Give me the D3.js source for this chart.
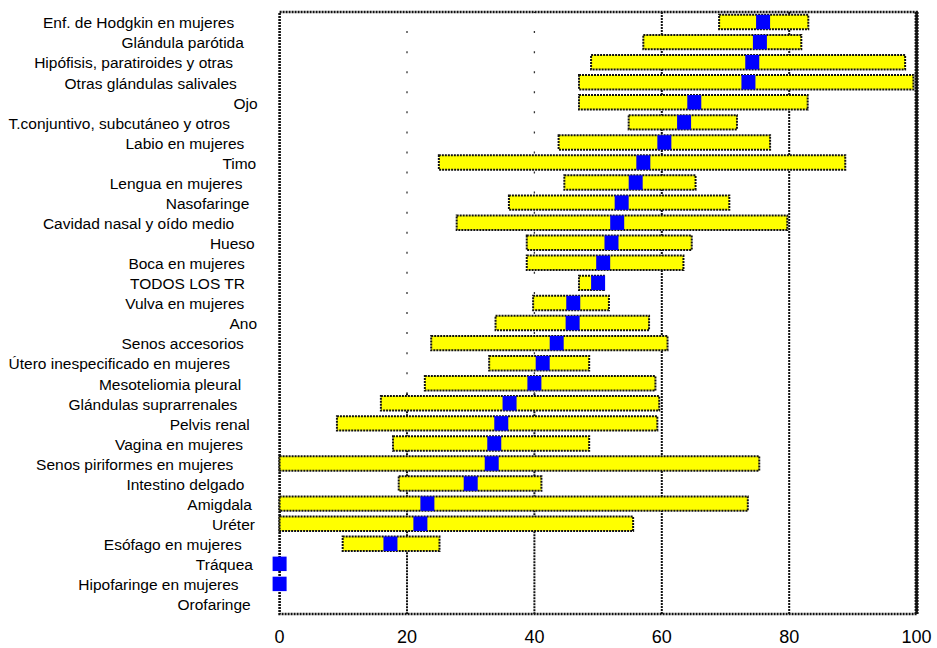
<!DOCTYPE html>
<html>
<head>
<meta charset="utf-8">
<script src="https://cdn.jsdelivr.net/npm/d3@7"></script>
<style>
  html, body { margin: 0; padding: 0; background: #fff; }
  svg { display: block; }
  text { font-family: "Liberation Sans", Arial, sans-serif; fill: #000; }
</style>
</head>
<body>
<svg id="chart" width="937" height="648"></svg>
<script>
const categories = [
  "Enf. de Hodgkin en mujeres",
  "Glándula parótida",
  "Hipófisis, paratiroides y otras",
  "Otras glándulas salivales",
  "Ojo",
  "T.conjuntivo, subcutáneo y otros",
  "Labio en mujeres",
  "Timo",
  "Lengua en mujeres",
  "Nasofaringe",
  "Cavidad nasal y oído medio",
  "Hueso",
  "Boca en mujeres",
  "TODOS LOS TR",
  "Vulva en mujeres",
  "Ano",
  "Senos accesorios",
  "Útero inespecificado en mujeres",
  "Mesoteliomia pleural",
  "Glándulas suprarrenales",
  "Pelvis renal",
  "Vagina en mujeres",
  "Senos piriformes en mujeres",
  "Intestino delgado",
  "Amigdala",
  "Uréter",
  "Esófago en mujeres",
  "Tráquea",
  "Hipofaringe en mujeres",
  "Orofaringe"
];
const lowValues = [69.0, 57.1, 48.9, 47.0, 47.0, 54.8, 43.8, 25.0, 44.7, 36.0,
                   27.8, 38.8, 38.8, 47.0, 39.8, 33.9, 23.8, 32.9, 22.8, 15.9,
                   9.0, 17.8, 0, 18.7, 0, 0, 9.9, null, null, null];
const highValues = [83.0, 81.9, 98.2, 99.5, 82.9, 71.8, 77.0, 88.8, 65.3, 70.6,
                    79.7, 64.7, 63.4, 50.9, 51.7, 58.0, 60.9, 48.6, 59.0, 59.6,
                    59.3, 48.6, 75.3, 41.1, 73.5, 55.5, 25.1, null, null, null];
const pointValues = [75.9, 75.4, 74.2, 73.6, 65.1, 63.5, 60.4, 57.1, 55.9, 53.7,
                     53.0, 52.1, 50.8, 50.0, 46.1, 46.0, 43.5, 41.3, 40.0, 36.1,
                     34.8, 33.7, 33.3, 30.0, 23.2, 22.1, 17.4, 0, 0, null];
const xTicks = [0, 20, 40, 60, 80, 100];
const sparseGridTicks = [20, 40];
const sparseGridUntil = "Glándulas suprarrenales";

(function () {
const rows = categories.map((c, i) => ({
  cat: c, low: lowValues[i], high: highValues[i], point: pointValues[i]
}));

const svg = d3.select("#chart");
const pLeft = 279.6, pRight = 916.6, pTop = 12, pBottom = 614;

const x = d3.scaleLinear().domain([0, 100]).range([pLeft, pRight]);
const y = d3.scaleBand().domain(categories).range([pTop, pBottom])
  .paddingInner(0.28).paddingOuter(0.14);
const step = y.step();
const bandTop = c => y(c) - y.paddingInner() * step / 2;

const dash = "2,1";

// gridlines
const gridG = svg.append("g");
xTicks.filter(t => t > 0 && t < 100).forEach(t => {
  if (sparseGridTicks.includes(t)) {
    const split = bandTop(sparseGridUntil);
    gridG.append("line")
      .attr("x1", x(t)).attr("x2", x(t))
      .attr("y1", pTop).attr("y2", split)
      .attr("stroke", "#333").attr("stroke-width", 1.3)
      .attr("stroke-dasharray", `2,${step - 2}`)
      .attr("stroke-dashoffset", 1);
    gridG.append("line")
      .attr("x1", x(t)).attr("x2", x(t))
      .attr("y1", split).attr("y2", pBottom)
      .attr("stroke", "#111").attr("stroke-width", 2)
      .attr("stroke-dasharray", dash);
  } else {
    gridG.append("line")
      .attr("x1", x(t)).attr("x2", x(t))
      .attr("y1", pTop).attr("y2", pBottom)
      .attr("stroke", "#111").attr("stroke-width", 2)
      .attr("stroke-dasharray", dash);
  }
});

// frame
svg.append("rect")
  .attr("x", x(0)).attr("y", pTop)
  .attr("width", x(100) - x(0)).attr("height", pBottom - pTop)
  .attr("fill", "none").attr("stroke", "#111").attr("stroke-width", 2.6)
  .attr("stroke-dasharray", dash);
svg.append("line")
  .attr("x1", x(100)).attr("x2", x(100))
  .attr("y1", pTop).attr("y2", pBottom + 1)
  .attr("stroke", "#111").attr("stroke-width", 4)
  .attr("stroke-dasharray", dash);

// range bars
svg.append("g").selectAll("rect")
  .data(rows.filter(d => d.low != null && d.high != null))
  .join("rect")
  .attr("x", d => x(d.low))
  .attr("y", d => y(d.cat))
  .attr("width", d => x(d.high) - x(d.low))
  .attr("height", y.bandwidth())
  .attr("fill", "#ffff00")
  .attr("stroke", "#111")
  .attr("stroke-width", 2)
  .attr("stroke-dasharray", dash);

// point markers
const sq = 14;
svg.append("g").selectAll("rect")
  .data(rows.filter(d => d.point != null))
  .join("rect")
  .attr("x", d => x(d.point) - sq / 2)
  .attr("y", d => y(d.cat))
  .attr("width", sq)
  .attr("height", y.bandwidth())
  .attr("fill", "#0000ff");

// category labels
const labelRight = 261;
svg.append("g").selectAll("text")
  .data(rows)
  .join("text")
  .attr("font-size", 15.5)
  .attr("y", d => y(d.cat) + y.bandwidth() / 2 + 6.3)
  .text(d => d.cat)
  .each(function () {
    const w = this.getComputedTextLength();
    d3.select(this).attr("x", labelRight - 1.14 * w);
  });

// x axis tick labels
svg.append("g").selectAll("text")
  .data(xTicks)
  .join("text")
  .attr("x", d => x(d))
  .attr("y", 643)
  .attr("text-anchor", "middle")
  .attr("font-size", 18)
  .text(d => d);
})();
</script>
</body>
</html>
